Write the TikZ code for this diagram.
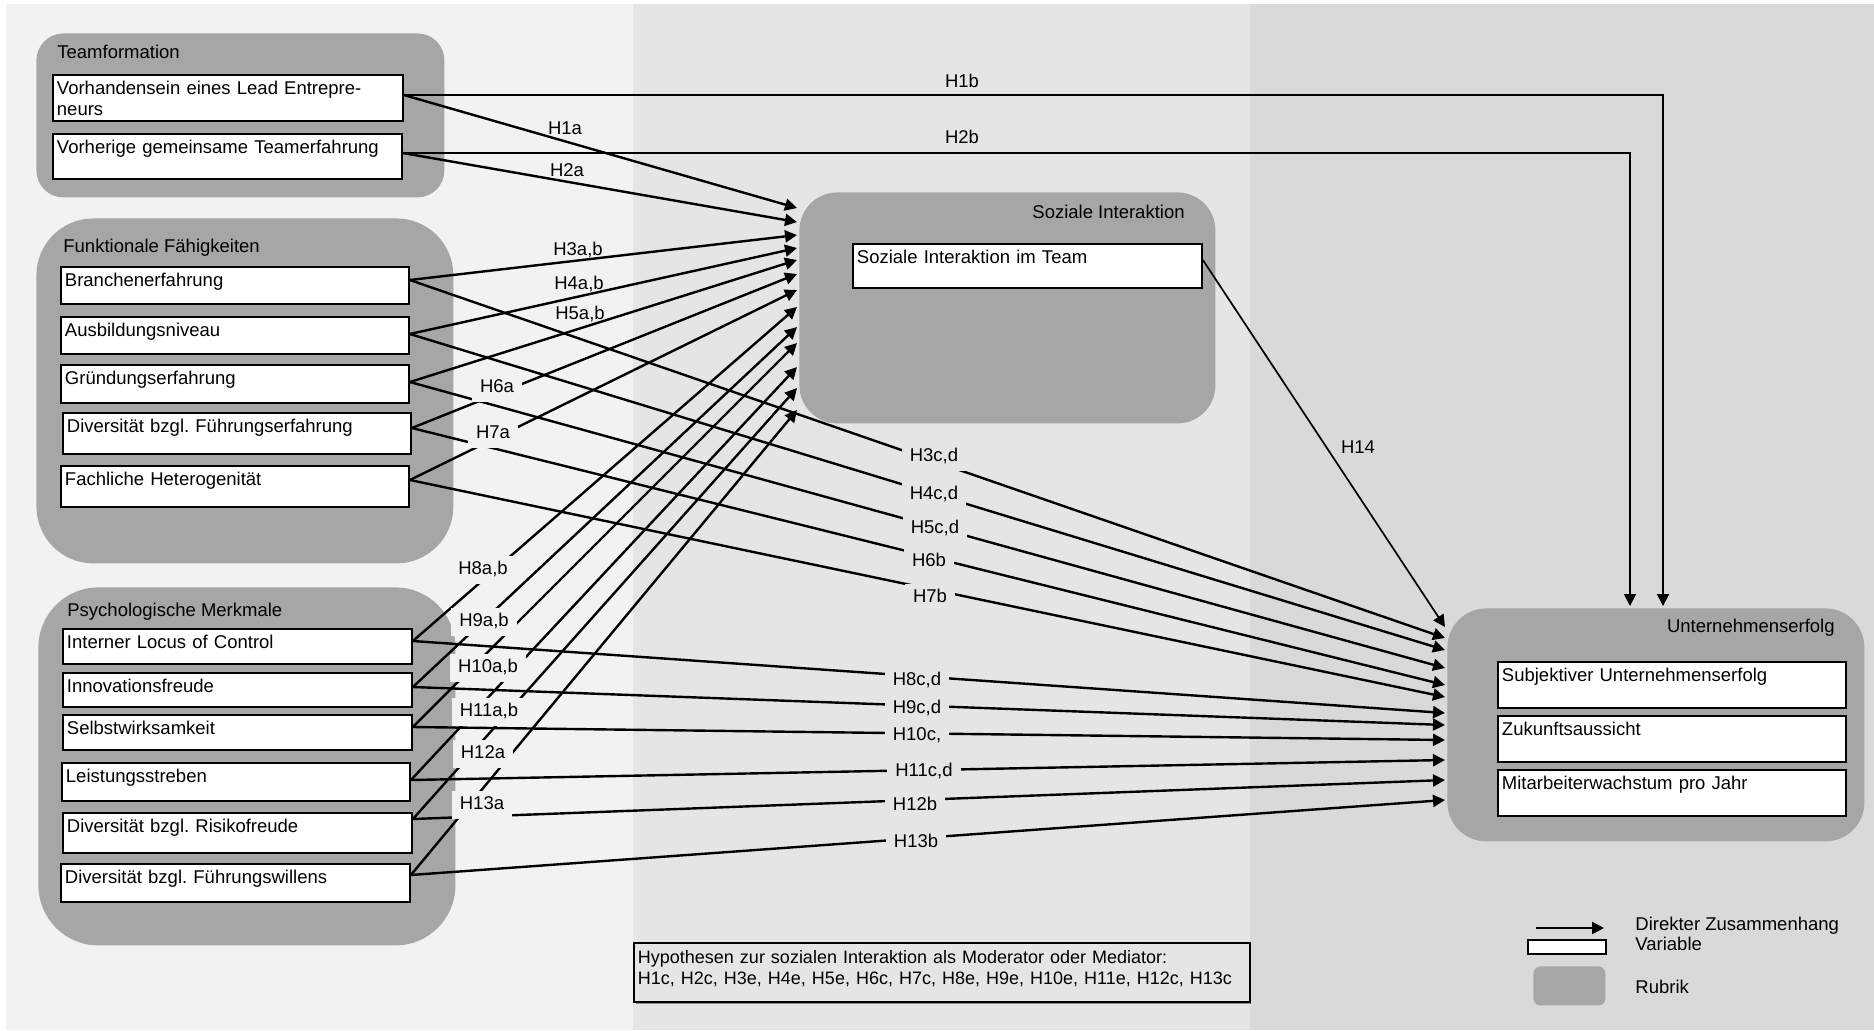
\documentclass[tikz,border=0pt]{standalone}
\usepackage{fontspec}
\setmainfont{Liberation Sans}
\usetikzlibrary{arrows.meta,calc}
\definecolor{bandA}{HTML}{F2F2F2}
\definecolor{bandB}{HTML}{E5E5E5}
\definecolor{bandC}{HTML}{D9D9D9}
\definecolor{grp}{HTML}{A6A6A6}
\newcommand\dfont{\fontsize{9.25pt}{10.5pt}\selectfont}
\frenchspacing
\begin{document}
\begin{tikzpicture}[x=0.5pt,y=-0.5pt,
 grpbox/.style={fill=grp, draw=none, anchor=north west, inner sep=0pt},
 varbox/.style={draw=black, line width=0.95pt, fill=white, anchor=north west, inner xsep=2pt, inner ysep=0pt, align=left, font=\dfont, text height=10pt},
 gtitle/.style={font=\dfont, inner sep=0pt},
 hyp/.style={font=\dfont, inner xsep=4pt, inner ysep=2.5pt, text height=6.65pt, text depth=2pt, yshift=-1pt},
 hypA/.style={hyp, fill=bandA},
 hypB/.style={hyp, fill=bandB},
 conn/.style={line width=1.2pt, -{Triangle[length=6pt,width=6pt]}},
 connthin/.style={line width=0.85pt, -{Triangle[length=6pt,width=6pt]}},
]
% background bands
\fill[white] (0,0) rectangle (1874,1030);
\fill[bandA] (6,4) rectangle (633,1030);
\fill[bandB] (633,4) rectangle (1250,1030);
\fill[bandC] (1250,4) rectangle (1874,1030);
\useasboundingbox (0,0) rectangle (1874,1030);

% groups
\node[grpbox, minimum width=204pt, minimum height=82pt, rounded corners=13.5pt] (team) at (36,33) {};
\node[grpbox, minimum width=208.5pt, minimum height=172.5pt, rounded corners=28.5pt] (func) at (36,218) {};
\node[grpbox, minimum width=208.5pt, minimum height=179pt, rounded corners=30pt] (psych) at (38,587) {};
\node[grpbox, minimum width=208pt, minimum height=115.5pt, rounded corners=19pt] (soz) at (799,192) {};
\node[grpbox, minimum width=208.5pt, minimum height=116.5pt, rounded corners=19.5pt] (unt) at (1447,608) {};

\node[gtitle, anchor=base west] (tteam) at (57,58) {Teamformation};
\node[gtitle, anchor=base west] (tfunc) at (63,252) {Funktionale Fähigkeiten};
\node[gtitle, anchor=base west] (tpsych) at (67,616) {Psychologische Merkmale};
\node[gtitle, anchor=base east] (tsoz) at (1185,218) {Soziale Interaktion};
\node[gtitle, anchor=base east] (tunt) at (1835,632) {Unternehmenserfolg};

% variables
\node[varbox, text width=171pt, text depth=13pt] (v1) at (52,74) {Vorhandensein eines Lead Entrepre-\\neurs};
\node[varbox, text width=170.5pt, text depth=12.5pt] (v2) at (52,133) {Vorherige gemeinsame Teamerfahrung};
\node[varbox, text width=170pt, text depth=8.5pt] (f1) at (60,266) {Branchenerfahrung};
\node[varbox, text width=170pt, text depth=8.5pt] (f2) at (60,316) {Ausbildungsniveau};
\node[varbox, text width=170pt, text depth=9pt] (f3) at (60,364) {Gründungserfahrung};
\node[varbox, text width=170pt, text depth=10.5pt] (f4) at (62,412) {Diversität bzgl. Führungserfahrung};
\node[varbox, text width=170pt, text depth=10.5pt] (f5) at (60,465) {Fachliche Heterogenität};
\node[varbox, text width=170.5pt, text depth=7.5pt] (p1) at (62,628) {Interner Locus of Control};
\node[varbox, text width=170.5pt, text depth=7pt] (p2) at (62,672) {Innovationsfreude};
\node[varbox, text width=170.5pt, text depth=7.5pt] (p3) at (62,714) {Selbstwirksamkeit};
\node[varbox, text width=170pt, text depth=9pt] (p4) at (61,762) {Leistungsstreben};
\node[varbox, text width=170.5pt, text depth=10pt] (p5) at (62,812) {Diversität bzgl. Risikofreude};
\node[varbox, text width=170.5pt, text depth=9pt] (p6) at (60,863) {Diversität bzgl. Führungswillens};
\node[varbox, text width=170.5pt, text depth=12pt] (s1) at (852,243) {Soziale Interaktion im Team};
\node[varbox, text width=170pt, text depth=13pt] (u1) at (1497,661) {Subjektiver Unternehmenserfolg};
\node[varbox, text width=170pt, text depth=13pt] (u2) at (1497,715) {Zukunftsaussicht};
\node[varbox, text width=170pt, text depth=13pt] (u3) at (1497,769) {Mitarbeiterwachstum pro Jahr};

% connectors to Unternehmenserfolg (long)
\draw[connthin] ($(v1.north east)+(0,21)$) -| ($(unt.north west)+(216,-2)$);
\draw[connthin] ($(v2.north east)+(0,20)$) -| ($(unt.north west)+(183,-2)$);
\draw[connthin] ($(s1.north east)+(0,17)$) -- ($(unt.north west)+(-2,19)$);
\draw[conn] ($(f1.north east)+(0,14)$) -- ($(unt.north west)+(-2,30)$);
\draw[conn] ($(f2.north east)+(0,18)$) -- ($(unt.north west)+(-2,42)$);
\draw[conn] ($(f3.north east)+(0,18)$) -- ($(unt.north west)+(-2,60)$);
\draw[conn] ($(f4.north east)+(0,16)$) -- ($(unt.north west)+(-2,77)$);
\draw[conn] ($(f5.north east)+(0,15)$) -- ($(unt.north west)+(-2,89)$);
\draw[conn] ($(p1.north east)+(0,13)$) -- ($(unt.north west)+(-2,105)$);
\draw[conn] ($(p2.north east)+(0,15)$) -- ($(unt.north west)+(-2,117)$);
\draw[conn] ($(p3.north east)+(0,13)$) -- ($(unt.north west)+(-2,132)$);
\draw[conn] ($(p4.north east)+(0,18)$) -- ($(unt.north west)+(-2,152)$);
\draw[conn] ($(p5.north east)+(0,7)$) -- ($(unt.north west)+(-2,172)$);
\draw[conn] ($(p6.north east)+(0,12)$) -- ($(unt.north west)+(-2,192)$);

% connectors to Soziale Interaktion
\draw[conn] ($(v1.north east)+(0,21)$) -- ($(soz.north west)+(-2,16)$);
\draw[conn] ($(v2.north east)+(0,20)$) -- ($(soz.north west)+(-2,30)$);
\draw[conn] ($(f1.north east)+(0,14)$) -- ($(soz.north west)+(-2,43)$);
\draw[conn] ($(f2.north east)+(0,18)$) -- ($(soz.north west)+(-2,56)$);
\draw[conn] ($(f3.north east)+(0,18)$) -- ($(soz.north west)+(-2,68)$);
\draw[conn] ($(f4.north east)+(0,16)$) -- ($(soz.north west)+(-2,82)$);
\draw[conn] ($(f5.north east)+(0,15)$) -- ($(soz.north west)+(-2,98)$);
\draw[conn] ($(p1.north east)+(0,13)$) -- ($(soz.north west)+(-2,115)$);
\draw[conn] ($(p2.north east)+(0,15)$) -- ($(soz.north west)+(-2,135)$);
\draw[conn] ($(p3.north east)+(0,13)$) -- ($(soz.north west)+(-2,151)$);
\draw[conn] ($(p4.north east)+(0,18)$) -- ($(soz.north west)+(-2,175)$);
\draw[conn] ($(p5.north east)+(0,7)$) -- ($(soz.north west)+(-2,196)$);
\draw[conn] ($(p6.north east)+(0,12)$) -- ($(soz.north west)+(-2,218)$);

% labels
\node[hyp] (l1b) at (962,81) {H1b};
\node[hyp] (l2b) at (962,137) {H2b};
\node[hyp] (l1a) at (565,128) {H1a};
\node[hyp] (l2a) at (567,170) {H2a};
\node[hyp] (l3ab) at (578,249) {H3a,b};
\node[hyp] (l4ab) at (579,283) {H4a,b};
\node[hyp] (l5ab) at (580,313) {H5a,b};
\node[hyp] (l14) at (1358,447) {H14};
\node[hypA] (l6a) at (497,386) {H6a};
\node[hypA] (l7a) at (493,432) {H7a};
\node[hypA] (l8ab) at (483,568) {H8a,b};
\node[hypA] (l9ab) at (484,620) {H9a,b};
\node[hypA] (l10ab) at (488,666) {H10a,b};
\node[hypA] (l11ab) at (489,710) {H11a,b};
\node[hypA] (l12a) at (483,752) {H12a};
\node[hypA] (l13a) at (482,803) {H13a};
\node[hypB] (l3cd) at (934,455) {H3c,d};
\node[hypB] (l4cd) at (934,493) {H4c,d};
\node[hypB] (l5cd) at (935,527) {H5c,d};
\node[hypB] (l6b) at (929,560) {H6b};
\node[hypB] (l7b) at (930,596) {H7b};
\node[hypB] (l8cd) at (917,679) {H8c,d};
\node[hypB] (l9cd) at (917,707) {H9c,d};
\node[hypB] (l10c) at (917,734) {H10c,};
\node[hypB] (l11cd) at (924,770) {H11c,d};
\node[hypB] (l12b) at (915,804) {H12b};
\node[hypB] (l13b) at (916,841) {H13b};

% moderator / mediator box
\fill[black!45] (636,946) rectangle (1251,1004);
\node[varbox, fill=bandB, text width=304pt, text height=10.5pt, text depth=19pt, font=\fontsize{9pt}{10.5pt}\selectfont] (hypbox) at (633,942) {\mbox{Hypothesen zur sozialen Interaktion als Moderator oder Mediator:}\\\mbox{H1c, H2c, H3e, H4e, H5e, H6c, H7c, H8e, H9e, H10e, H11e, H12c, H13c}};

% legend
\coordinate (lga) at (1536,928);
\coordinate (lgb) at (1604,928);
\draw[conn] (lga) -- (lgb);
\node[draw=black, line width=0.95pt, fill=white, minimum width=39pt, minimum height=7pt, inner sep=0pt, anchor=north west] (lgvar) at (1527,939) {};
\node[fill=grp, rounded corners=3.5pt, minimum width=36pt, minimum height=19.5pt, inner sep=0pt, anchor=north west] (lgrub) at (1533,966) {};
\node[gtitle, anchor=base west] (lgt1) at (1635,930) {Direkter Zusammenhang};
\node[gtitle, anchor=base west] (lgt2) at (1635,950) {Variable};
\node[gtitle, anchor=base west] (lgt3) at (1635,993) {Rubrik};
\end{tikzpicture}
\end{document}
